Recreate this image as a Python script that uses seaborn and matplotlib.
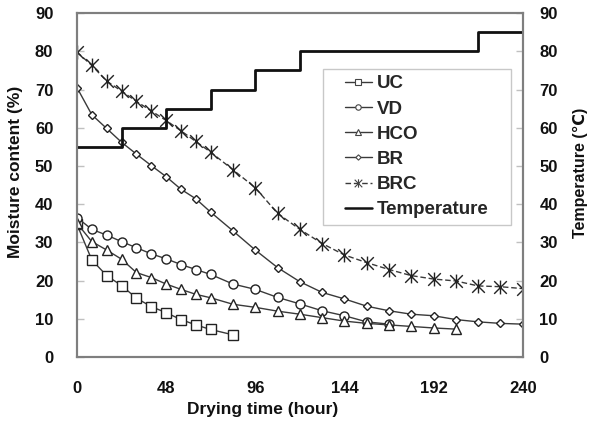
import numpy as np
import pandas as pd
import seaborn as sns
import matplotlib.pyplot as plt
from matplotlib.path import Path
from matplotlib.lines import Line2D
from matplotlib.legend_handler import HandlerLine2D

# moisture content (%)
uc_t = [0, 8, 16, 24, 32, 40, 48, 56, 64, 72, 84]
uc_v = [34.7, 25.4, 21.3, 18.7, 15.4, 13.2, 11.6, 9.8, 8.4, 7.2, 5.8]

vd_t = [0, 8, 16, 24, 32, 40, 48, 56, 64, 72, 84, 96, 108, 120, 132, 144, 156, 168]
vd_v = [36.5, 33.4, 31.9, 30.2, 28.6, 27.0, 25.7, 24.2, 22.9, 21.6, 19.1, 17.7,
        15.6, 13.9, 12.1, 10.8, 9.2, 8.6]

hco_t = [0, 8, 16, 24, 32, 40, 48, 56, 64, 72, 84, 96, 108, 120, 132, 144, 156,
         168, 180, 192, 204]
hco_v = [35.0, 30.2, 28.0, 25.6, 22.1, 20.8, 19.1, 17.7, 16.4, 15.5, 13.8, 13.0,
         12.0, 11.2, 10.3, 9.4, 8.8, 8.4, 8.0, 7.6, 7.3]

br_t = [0, 8, 16, 24, 32, 40, 48, 56, 64, 72, 84, 96, 108, 120, 132, 144, 156,
        168, 180, 192, 204, 216, 228, 240]
br_v = [70.5, 63.4, 59.8, 56.2, 53.1, 50.1, 47.2, 43.9, 41.4, 37.9, 33.0, 28.0,
        23.4, 19.7, 16.9, 15.2, 13.3, 12.1, 11.2, 10.8, 9.8, 9.2, 8.8, 8.6]

brc_t = br_t
brc_v = [79.8, 76.3, 72.2, 69.6, 66.9, 64.4, 61.9, 59.2, 56.4, 53.6, 49.0, 44.3,
         37.6, 33.4, 29.7, 26.7, 24.7, 22.9, 21.3, 20.4, 19.9, 18.6, 18.4, 17.9]

# drying temperature schedule (deg C)
temp_t = [0, 24, 48, 72, 96, 120, 216, 240]
temp_v = [55, 60, 65, 70, 75, 80, 85, 85]

sns.set_theme(style="white")
plt.rcParams['font.family'] = ['Liberation Sans', 'DejaVu Sans']
plt.rcParams['font.weight'] = 'bold'

fig = plt.figure(figsize=(5.92, 4.22), dpi=100)
ax = fig.add_axes([0.130, 0.154, 0.753, 0.815])

# asterisk-like marker: an X with a vertical bar
star = Path([(-1, -1), (1, 1), (-1, 1), (1, -1), (0, -1.1), (0, 1.1)],
            [Path.MOVETO, Path.LINETO, Path.MOVETO, Path.LINETO, Path.MOVETO, Path.LINETO])

lc = '#3a3a3a'
series = [
    ('UC', uc_t, uc_v, 's', '-', 6.5),
    ('VD', vd_t, vd_v, 'o', '-', 6.5),
    ('HCO', hco_t, hco_v, '^', '-', 6.5),
    ('BR', br_t, br_v, 'D', '-', 4.5),
    ('BRC', brc_t, brc_v, star, (0, (4, 2)), 10),
]
handles = []
for name, t, v, m, ls, ms in series:
    sns.lineplot(x=t, y=v, ax=ax, color=lc, lw=1.0, linestyle=ls, marker=m,
                 markersize=ms, markerfacecolor='white', markeredgecolor='#222222',
                 markeredgewidth=1.0)
    handles.append(Line2D([], [], color=lc, lw=1.0, linestyle=ls, marker=m,
                          markersize=ms * 0.6, markerfacecolor='white',
                          markeredgecolor='#444444', markeredgewidth=0.8, label=name))

ax2 = ax.twinx()
sns.lineplot(x=temp_t, y=temp_v, ax=ax2, color='#111111', lw=2.0, drawstyle='steps-post')
handles.append(Line2D([], [], color='#111111', lw=1.8, label='Temperature'))

for a in (ax, ax2):
    a.set_xlim(0, 240)
    a.set_ylim(0, 90)
    a.set_yticks(np.arange(0, 91, 10))
    for s in a.spines.values():
        s.set_color('#7f7f7f')
        s.set_linewidth(1.5)
ax.set_xticks([0, 48, 96, 144, 192, 240])
ax.tick_params(axis='both', direction='in', length=5, width=1, color='#c0c0c0',
               labelsize=12, labelcolor='#111111')
ax.tick_params(axis='x', pad=17)
ax.tick_params(axis='y', pad=17)
ax2.tick_params(axis='y', direction='in', length=5, width=1, color='#c0c0c0',
                labelsize=12, labelcolor='#111111', pad=12, right=True)
for lab in ax.get_xticklabels() + ax.get_yticklabels() + ax2.get_yticklabels():
    lab.set_fontweight('bold')

ax.set_xlabel('Drying time (hour)', fontsize=12.5, fontweight='bold', color='#111111')
ax.set_ylabel('Moisture content (%)', fontsize=12.5, fontweight='bold', color='#111111')
ax2.set_ylabel('Temperature (\u2103)', fontsize=11.5, fontweight='bold', color='#111111')
ax.xaxis.set_label_coords(0.417, -0.131)
ax.yaxis.set_label_coords(-0.121, 0.538)
ax2.yaxis.set_label_coords(1.112, 0.535)

leg = ax2.legend(handles=handles, loc='upper left', mode='expand',
                 bbox_to_anchor=(0.552, 0.388, 0.4215, 0.449), borderaxespad=0,
                 prop={'weight': 'bold', 'size': 13.5}, frameon=True, fancybox=False,
                 edgecolor='#bbbbbb', handlelength=2.28, handletextpad=0.27,
                 labelspacing=0.43, borderpad=0.33,
                 handler_map={Line2D: HandlerLine2D(xpad=0.84)})
leg.get_frame().set_linewidth(1.0)

fig.savefig('out.png', dpi=100)
